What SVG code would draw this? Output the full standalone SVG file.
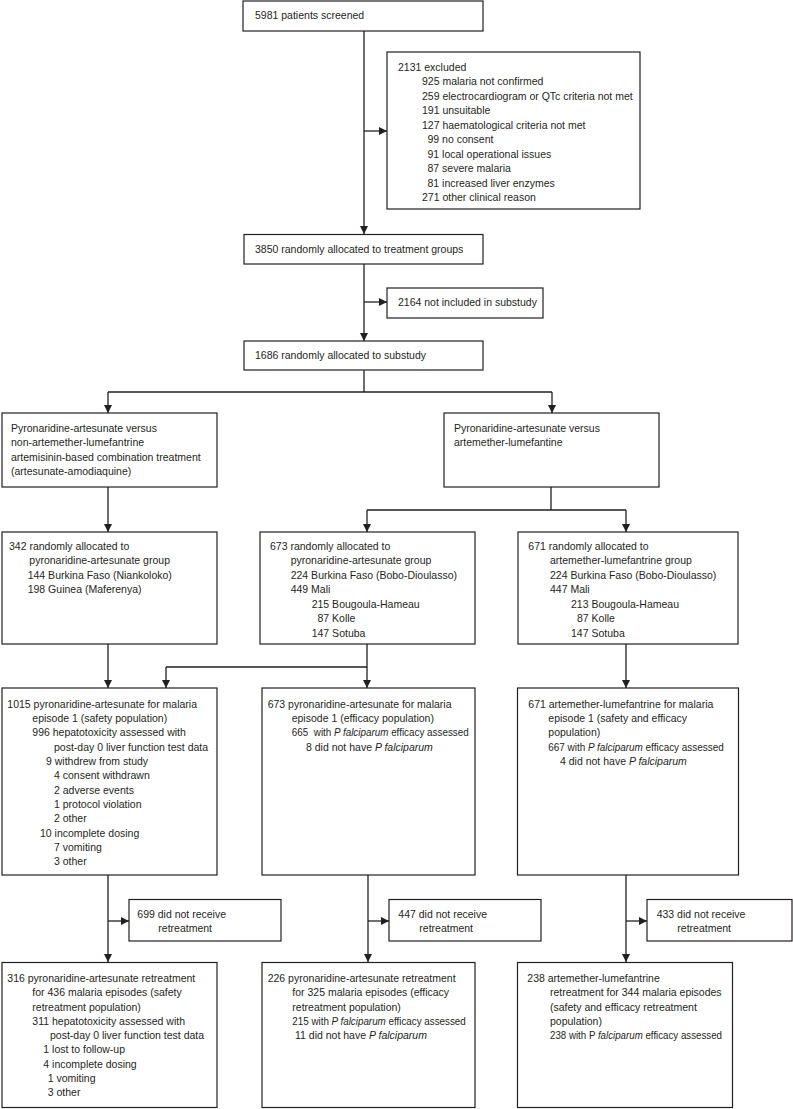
<svg xmlns="http://www.w3.org/2000/svg" width="793" height="1109" viewBox="0 0 793 1109">
<style>
.box{fill:#fff;stroke:#231f20;stroke-width:1.2}
.ln{fill:none;stroke:#231f20;stroke-width:1.3}
text{font-family:"Liberation Sans",Arial,sans-serif;font-size:10.5px;fill:#231f20}
.i{font-style:italic}
</style>
<defs>
<marker id="ah" viewBox="0 0 10 10" refX="10" refY="5" markerUnits="userSpaceOnUse" markerWidth="8" markerHeight="8" orient="auto">
<path d="M0,0 L10,5 L0,10 z" fill="#231f20"/>
</marker>
</defs>
<rect width="793" height="1109" fill="#fff"/>
<g id="connectors">
<path class="ln" d="M364,31 V234" marker-end="url(#ah)"/>
<path class="ln" d="M364,131 H387" marker-end="url(#ah)"/>
<path class="ln" d="M364,264 V341" marker-end="url(#ah)"/>
<path class="ln" d="M364,302 H387" marker-end="url(#ah)"/>
<path class="ln" d="M364,370 V392 M108,392 H552"/>
<path class="ln" d="M108,392 V413" marker-end="url(#ah)"/>
<path class="ln" d="M552,392 V413" marker-end="url(#ah)"/>
<path class="ln" d="M108,487 V532" marker-end="url(#ah)"/>
<path class="ln" d="M551,487 V510 M367,510 H626"/>
<path class="ln" d="M367,510 V532" marker-end="url(#ah)"/>
<path class="ln" d="M626,510 V532" marker-end="url(#ah)"/>
<path class="ln" d="M108,644 V688" marker-end="url(#ah)"/>
<path class="ln" d="M367,644 V667 M166,667 H367"/>
<path class="ln" d="M166,667 V688" marker-end="url(#ah)"/>
<path class="ln" d="M367,667 V688" marker-end="url(#ah)"/>
<path class="ln" d="M626,644 V688" marker-end="url(#ah)"/>
<path class="ln" d="M108,875 V962" marker-end="url(#ah)"/>
<path class="ln" d="M108,921 H129" marker-end="url(#ah)"/>
<path class="ln" d="M368,875 V962" marker-end="url(#ah)"/>
<path class="ln" d="M368,921 H389" marker-end="url(#ah)"/>
<path class="ln" d="M626,875 V962" marker-end="url(#ah)"/>
<path class="ln" d="M626,921 H647" marker-end="url(#ah)"/>
</g>
<g id="screened">
<rect class="box" x="243" y="1" width="240" height="30"/>
<text x="255" y="18.7">5981 patients screened</text>
</g>
<g id="excluded">
<rect class="box" x="387" y="52" width="253" height="157"/>
<text x="398" y="71">2131 excluded</text>
<text x="422" y="85.3">925 malaria not confirmed</text>
<text x="422" y="99.7">259 electrocardiogram or QTc criteria not met</text>
<text x="422" y="114">191 unsuitable</text>
<text x="422" y="128.7">127 haematological criteria not met</text>
<text x="427.5" y="143">99 no consent</text>
<text x="427.5" y="157.7">91 local operational issues</text>
<text x="427.5" y="172">87 severe malaria</text>
<text x="427.5" y="186.7">81 increased liver enzymes</text>
<text x="422" y="201">271 other clinical reason</text>
</g>
<g id="allocated">
<rect class="box" x="244" y="234.5" width="239" height="29.5"/>
<text x="255" y="253">3850 randomly allocated to treatment groups</text>
</g>
<g id="notincluded">
<rect class="box" x="387" y="288" width="156" height="30"/>
<text x="398" y="305.7">2164 not included in substudy</text>
</g>
<g id="substudy">
<rect class="box" x="244" y="341" width="239" height="29"/>
<text x="255" y="358.7">1686 randomly allocated to substudy</text>
</g>
<g id="compA">
<rect class="box" x="2" y="413" width="215" height="74"/>
<text x="11" y="432">Pyronaridine-artesunate versus</text>
<text x="11" y="446.4">non-artemether-lumefantrine</text>
<text x="11" y="461">artemisinin-based combination treatment</text>
<text x="11" y="475.4">(artesunate-amodiaquine)</text>
</g>
<g id="compB">
<rect class="box" x="444" y="413" width="215" height="74"/>
<text x="454" y="432">Pyronaridine-artesunate versus</text>
<text x="454" y="446.4">artemether-lumefantine</text>
</g>
<g id="alloc342">
<rect class="box" x="2" y="532" width="215" height="112"/>
<text x="9" y="549.7">342 randomly allocated to</text>
<text x="29.3" y="564.2">pyronaridine-artesunate group</text>
<text x="27.7" y="578.7">144 Burkina Faso (Niankoloko)</text>
<text x="27.7" y="593.2">198 Guinea (Maferenya)</text>
</g>
<g id="alloc673">
<rect class="box" x="260" y="532" width="215" height="112"/>
<text x="270" y="549.7">673 randomly allocated to</text>
<text x="290.7" y="564.2">pyronaridine-artesunate group</text>
<text x="290.7" y="578.7">224 Burkina Faso (Bobo-Dioulasso)</text>
<text x="290.7" y="593.2">449 Mali</text>
<text x="311.7" y="607.7">215 Bougoula-Hameau</text>
<text x="317.5" y="622.2">87 Kolle</text>
<text x="311.7" y="636.7">147 Sotuba</text>
</g>
<g id="alloc671">
<rect class="box" x="518" y="532" width="220" height="112"/>
<text x="528.3" y="549.7">671 randomly allocated to</text>
<text x="550" y="564.2">artemether-lumefantrine group</text>
<text x="550" y="578.7">224 Burkina Faso (Bobo-Dioulasso)</text>
<text x="550" y="593.2">447 Mali</text>
<text x="571" y="607.7">213 Bougoula-Hameau</text>
<text x="577" y="622.2">87 Kolle</text>
<text x="571" y="636.7">147 Sotuba</text>
</g>
<g id="safety1015">
<rect class="box" x="2" y="688" width="215" height="187"/>
<text x="7.3" y="707.7">1015 pyronaridine-artesunate for malaria</text>
<text x="32.3" y="722">episode 1 (safety population)</text>
<text x="32.3" y="736.4">996 hepatotoxicity assessed with</text>
<text x="54" y="750.7">post-day 0 liver function test data</text>
<text x="46" y="765">9 withdrew from study</text>
<text x="54" y="779.4">4 consent withdrawn</text>
<text x="54" y="793.7">2 adverse events</text>
<text x="54" y="808">1 protocol violation</text>
<text x="54" y="822.4">2 other</text>
<text x="40" y="836.7">10 incomplete dosing</text>
<text x="54" y="851.1">7 vomiting</text>
<text x="54" y="865.4">3 other</text>
</g>
<g id="efficacy673">
<rect class="box" x="262" y="688" width="213" height="187"/>
<text x="267.7" y="707.7">673 pyronaridine-artesunate for malaria</text>
<text x="291.7" y="722">episode 1 (efficacy population)</text>
<text x="291.7" y="736.4" textLength="177" lengthAdjust="spacingAndGlyphs">665<tspan dx="6">with </tspan><tspan class="i">P falciparum</tspan> efficacy assessed</text>
<text x="306" y="750.7">8 did not have <tspan class="i">P falciparum</tspan></text>
</g>
<g id="al671">
<rect class="box" x="517.5" y="688" width="221" height="187"/>
<text x="528.3" y="707.7">671 artemether-lumefantrine for malaria</text>
<text x="548.3" y="722">episode 1 (safety and efficacy</text>
<text x="548.3" y="736.4">population)</text>
<text x="548.3" y="750.7" textLength="175.5" lengthAdjust="spacingAndGlyphs">667 with <tspan class="i">P falciparum</tspan> efficacy assessed</text>
<text x="560" y="765">4 did not have <tspan class="i">P falciparum</tspan></text>
</g>
<g id="noretreat699">
<rect class="box" x="129" y="899.5" width="152" height="41.5"/>
<text x="137.3" y="917.7">699 did not receive</text>
<text x="158.3" y="932">retreatment</text>
</g>
<g id="noretreat447">
<rect class="box" x="389" y="899.5" width="152" height="41.5"/>
<text x="398.3" y="917.7">447 did not receive</text>
<text x="419.3" y="932">retreatment</text>
</g>
<g id="noretreat433">
<rect class="box" x="647" y="899.5" width="145" height="41.5"/>
<text x="656.7" y="917.7">433 did not receive</text>
<text x="677.3" y="932">retreatment</text>
</g>
<g id="retreat316">
<rect class="box" x="2" y="962.5" width="215" height="145"/>
<text x="7.3" y="982">316 pyronaridine-artesunate retreatment</text>
<text x="32.3" y="996.2">for 436 malaria episodes (safety</text>
<text x="32.3" y="1010.5">retreatment population)</text>
<text x="32.3" y="1024.7">311 hepatotoxicity assessed with</text>
<text x="50" y="1039">post-day 0 liver function test data</text>
<text x="43.3" y="1053.3">1 lost to follow-up</text>
<text x="43.3" y="1067.5">4 incomplete dosing</text>
<text x="47.7" y="1081.8">1 vomiting</text>
<text x="47.7" y="1096">3 other</text>
</g>
<g id="retreat226">
<rect class="box" x="262" y="962.5" width="213" height="145"/>
<text x="267.7" y="982">226 pyronaridine-artesunate retreatment</text>
<text x="292.3" y="996.2">for 325 malaria episodes (efficacy</text>
<text x="292.3" y="1010.5">retreatment population)</text>
<text x="292.3" y="1024.7" textLength="173.5" lengthAdjust="spacingAndGlyphs">215 with <tspan class="i">P falciparum</tspan> efficacy assessed</text>
<text x="295" y="1039">11 did not have <tspan class="i">P falciparum</tspan></text>
</g>
<g id="retreat238">
<rect class="box" x="517.5" y="962.5" width="215" height="145"/>
<text x="527.3" y="982">238 artemether-lumefantrine</text>
<text x="550" y="996.2">retreatment for 344 malaria episodes</text>
<text x="550" y="1010.5">(safety and efficacy retreatment</text>
<text x="550" y="1024.7">population)</text>
<text x="550" y="1039" textLength="172" lengthAdjust="spacingAndGlyphs">238 with P <tspan class="i">falciparum</tspan> efficacy assessed</text>
</g>
</svg>
